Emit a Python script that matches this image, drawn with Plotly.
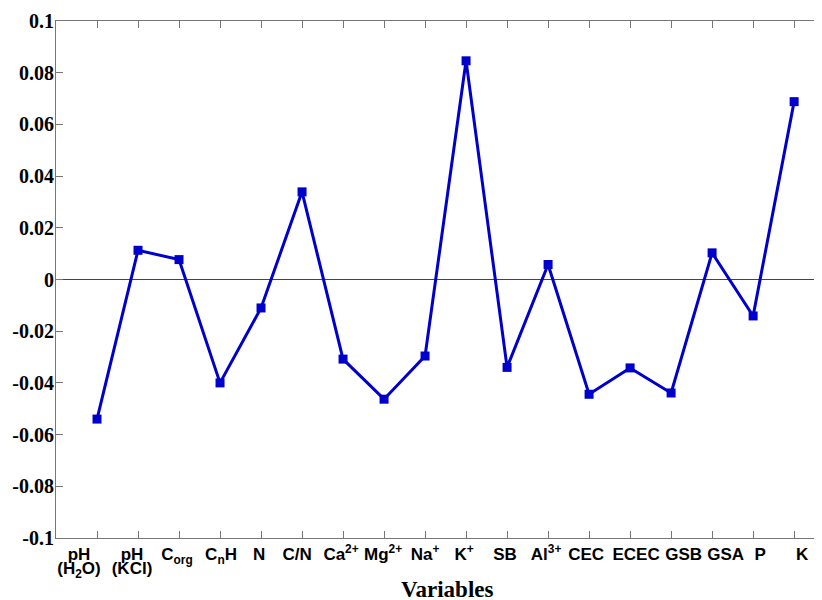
import plotly.graph_objects as go

# ---- data ----
categories = ["pH<br>(H<sub>2</sub>O)", "pH<br>(KCl)", "C<sub>org</sub>", "C<sub>n</sub>H", "N", "C/N",
              "Ca<sup>2+</sup>", "Mg<sup>2+</sup>", "Na<sup>+</sup>", "K<sup>+</sup>", "SB", "Al<sup>3+</sup>",
              "CEC", "ECEC", "GSB", "GSA", "P", "K"]
values = [-0.054, 0.0113, 0.0077, -0.040, -0.011, 0.0339,
          -0.0308, -0.0463, -0.0296, 0.0846, -0.034, 0.0058,
          -0.0444, -0.0342, -0.0439, 0.0103, -0.0141, 0.0688]
positions = list(range(1, len(categories) + 1))
y_ticks = [0.1, 0.08, 0.06, 0.04, 0.02, 0, -0.02, -0.04, -0.06, -0.08, -0.1]
y_tick_labels = ["0.1", "0.08", "0.06", "0.04", "0.02", "0", "-0.02", "-0.04", "-0.06", "-0.08", "-0.1"]

# ---- layout / styling ----
W, H = 814, 592            # page body has an 8px margin
ML, MR, MT, MB = 48, 0, 13, 62
plot_w, plot_h = W - ML - MR, H - MT - MB
x_range = [0, 18.68]
y_range = [-0.1, 0.1]
ux = plot_w / (x_range[1] - x_range[0])      # px per x unit

# horizontal nudges (px) of each category label relative to its tick, as in the original
label_dx_px = [-18, -6, -2, 1, -2, -5, -2, -1, 0, -2, -2, -2, -3, 6, 12.5, 13.5, 7, 8]

lines1, lines2, x1, x2 = [], [], [], []
for p, lab, dx in zip(positions, categories, label_dx_px):
    parts = lab.split("<br>")
    lines1.append(parts[0])
    x1.append(p + dx / ux)
    if len(parts) > 1:
        lines2.append(parts[1])
        x2.append(p + dx / ux)

fig = go.Figure()
fig.add_trace(go.Scatter(
    x=positions, y=values, mode="lines+markers",
    line=dict(color="rgb(0,0,204)", width=3),
    marker=dict(symbol="square", size=9, color="rgb(0,0,204)"),
    showlegend=False,
))

axis_gray = "#777777"
label_font = dict(family="Liberation Sans, Arial", size=17, color="black", weight="bold")
label_axis = dict(
    overlaying="x", anchor="y", side="bottom", range=x_range, ticks="",
    showline=False, showgrid=False, zeroline=False, automargin=False,
    tickangle=0, tickfont=label_font,
)
fig.update_layout(
    width=W, height=H,
    margin=dict(l=ML, r=MR, t=MT, b=MB),
    plot_bgcolor="white", paper_bgcolor="white",
    xaxis=dict(
        range=x_range, tickvals=positions, showticklabels=False,
        showline=True, linecolor=axis_gray, linewidth=1, mirror="ticks",
        ticks="inside", ticklen=7, tickcolor=axis_gray, showgrid=False, zeroline=False,
        automargin=False,
    ),
    xaxis2=dict(tickvals=x1, ticktext=lines1, ticklabelstandoff=4, **label_axis),
    xaxis3=dict(tickvals=x2, ticktext=lines2, ticklabelstandoff=18, **label_axis),
    yaxis=dict(
        range=y_range, tickvals=y_ticks, ticktext=y_tick_labels,
        showline=True, linecolor=axis_gray, linewidth=1, mirror=False,
        ticks="inside", ticklen=7, tickcolor=axis_gray, showgrid=False,
        zeroline=True, zerolinecolor="#444444", zerolinewidth=1, automargin=False,
        ticklabelstandoff=-3,
        tickfont=dict(family="Liberation Serif, Times New Roman", size=20, color="black", weight="bold"),
    ),
    annotations=[dict(
        text="<b>Variables</b>", xref="paper", yref="paper", x=(446.5 - 56) / plot_w, y=-0.0996,
        xanchor="center", yanchor="middle", showarrow=False,
        font=dict(family="Liberation Serif, Times New Roman", size=23, color="black"),
    )],
)
# invisible helper traces so the label axes are drawn
fig.add_trace(go.Scatter(x=[None], y=[None], xaxis="x2", showlegend=False, hoverinfo="skip"))
fig.add_trace(go.Scatter(x=[None], y=[None], xaxis="x3", showlegend=False, hoverinfo="skip"))

fig.write_html("out.html")
